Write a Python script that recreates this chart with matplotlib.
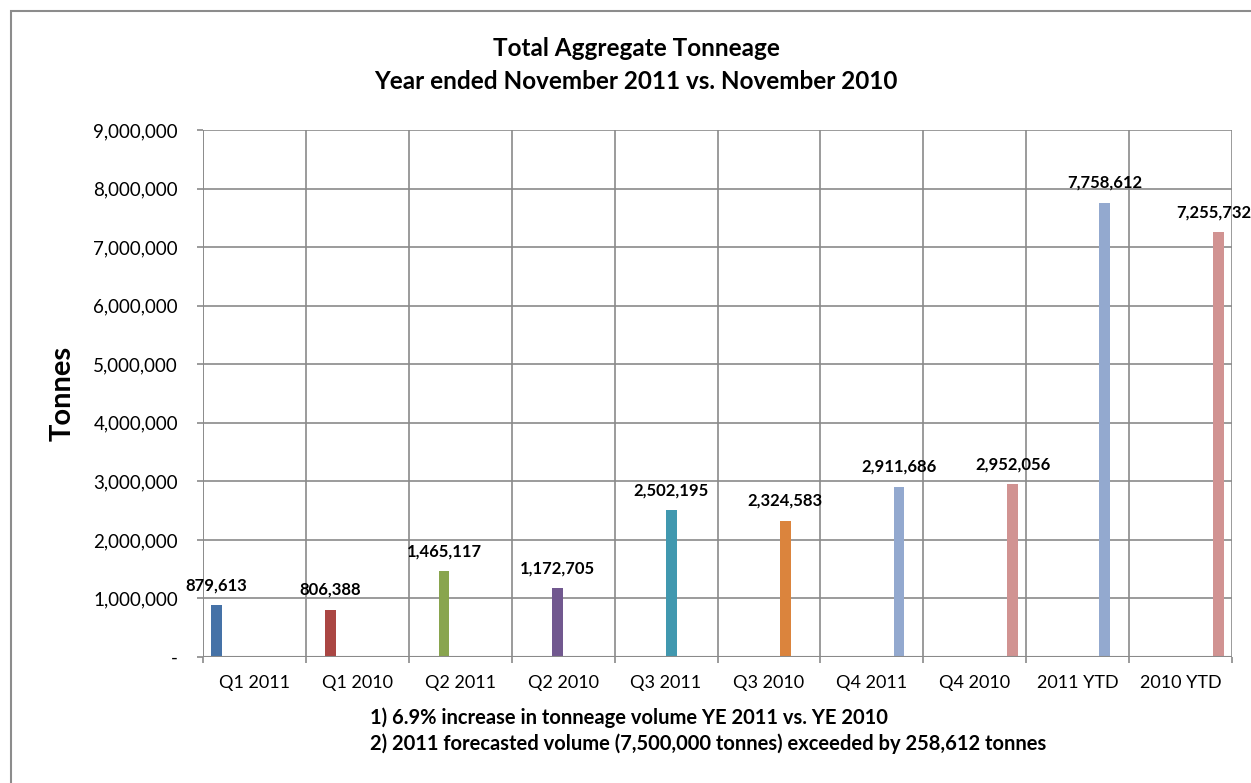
import numpy as np
import matplotlib
matplotlib.use("Agg")
import matplotlib.pyplot as plt
from matplotlib.patches import Rectangle
from matplotlib.ticker import FuncFormatter

plt.rcParams["font.family"] = ["Lato", "DejaVu Sans"]

# Categories and values
categories = ["Q1 2011", "Q1 2010", "Q2 2011", "Q2 2010", "Q3 2011",
              "Q3 2010", "Q4 2011", "Q4 2010", "2011 YTD", "2010 YTD"]
tonnes = [879613, 806388, 1465117, 1172705, 2502195,
          2324583, 2911686, 2952056, 7758612, 7255732]
# which series slot (of 8 in the Excel cluster) each value belongs to
series_slot = [0, 1, 2, 3, 4, 5, 6, 7, 6, 7]
series_colors = ["#4572A7", "#AA4643", "#89A54E", "#71588F",
                 "#4198AF", "#DB843D", "#93A9CF", "#D19392"]

title = "Total Aggregate Tonneage\nYear ended November 2011 vs. November 2010"
notes = ["1) 6.9% increase in tonneage volume YE 2011 vs. YE 2010",
         "2) 2011 forecasted volume (7,500,000 tonnes) exceeded by 258,612 tonnes"]

W, H = 1251, 783
fig = plt.figure(figsize=(W / 100, H / 100), dpi=100)
fig.patch.set_facecolor("white")

# outer chart frame (right/bottom run off the image)
fig.add_artist(Rectangle((11 / W, -0.1), 1.2, 1 - 11 / H + 0.1,
                         transform=fig.transFigure, fill=False,
                         edgecolor="#8c8c8c", linewidth=1.5))

ax = fig.add_axes([203 / W, (H - 657) / H, (1232 - 203) / W, (657 - 130) / H])

n_slots = 8
bw = 1 / (n_slots + 1.5)  # gap width 150%
grid_c = "#8a8a8a"

for i, (v, s) in enumerate(zip(tonnes, series_slot)):
    x = i + (s - (n_slots - 1) / 2) * bw
    ax.bar(x, v, width=bw, color=series_colors[s], zorder=3)
    # last label sits at the very edge of the image, nudge it in a bit
    dx = -5 if i == len(tonnes) - 1 else 0
    ax.annotate(f"{v:,}", (x, v), xytext=(dx, 12), textcoords="offset pixels",
                ha="center", va="bottom", fontsize=12, fontweight="bold",
                zorder=4, annotation_clip=False)

ax.set_xlim(-0.5, len(categories) - 0.5)
ax.set_ylim(0, 9000000)

ax.set_xticks(np.arange(len(categories)))
ax.set_xticklabels(categories, fontsize=13)
ax.set_xticks(np.arange(len(categories) + 1) - 0.5, minor=True)
ax.tick_params(axis="x", which="major", length=0, pad=13)
ax.tick_params(axis="x", which="minor", length=4.5, width=1.2, color=grid_c)
ax.grid(axis="x", which="minor", color=grid_c, linewidth=1.2, zorder=0)

ax.set_yticks(np.arange(0, 9000001, 1000000))
ax.yaxis.set_major_formatter(FuncFormatter(lambda v, p: "-" if v == 0 else f"{int(v):,}"))
ax.tick_params(axis="y", length=4.5, width=1.2, color=grid_c, labelsize=13.5, pad=13.5)
ax.grid(axis="y", which="major", color=grid_c, linewidth=1.2, zorder=0)

for sp in ax.spines.values():
    sp.set_visible(False)
ax.axvline(-0.5, color=grid_c, linewidth=1.2, zorder=2)
ax.axhline(0, color=grid_c, linewidth=1.5, zorder=5)

fig.text(63 / W, 1 - 393 / H, "Tonnes", rotation=90, ha="center", va="center",
         fontsize=21, fontweight="bold")

fig.text(636 / W, 1 - 65 / H, title, ha="center", va="center",
         fontsize=17.5, fontweight="bold", linespacing=1.5)

fig.text(370 / W, 1 - 718 / H, notes[0], ha="left", va="center",
         fontsize=14.5, fontweight="bold")
fig.text(370 / W, 1 - 744 / H, notes[1], ha="left", va="center",
         fontsize=14.5, fontweight="bold")

fig.savefig("out.png", dpi=100)
